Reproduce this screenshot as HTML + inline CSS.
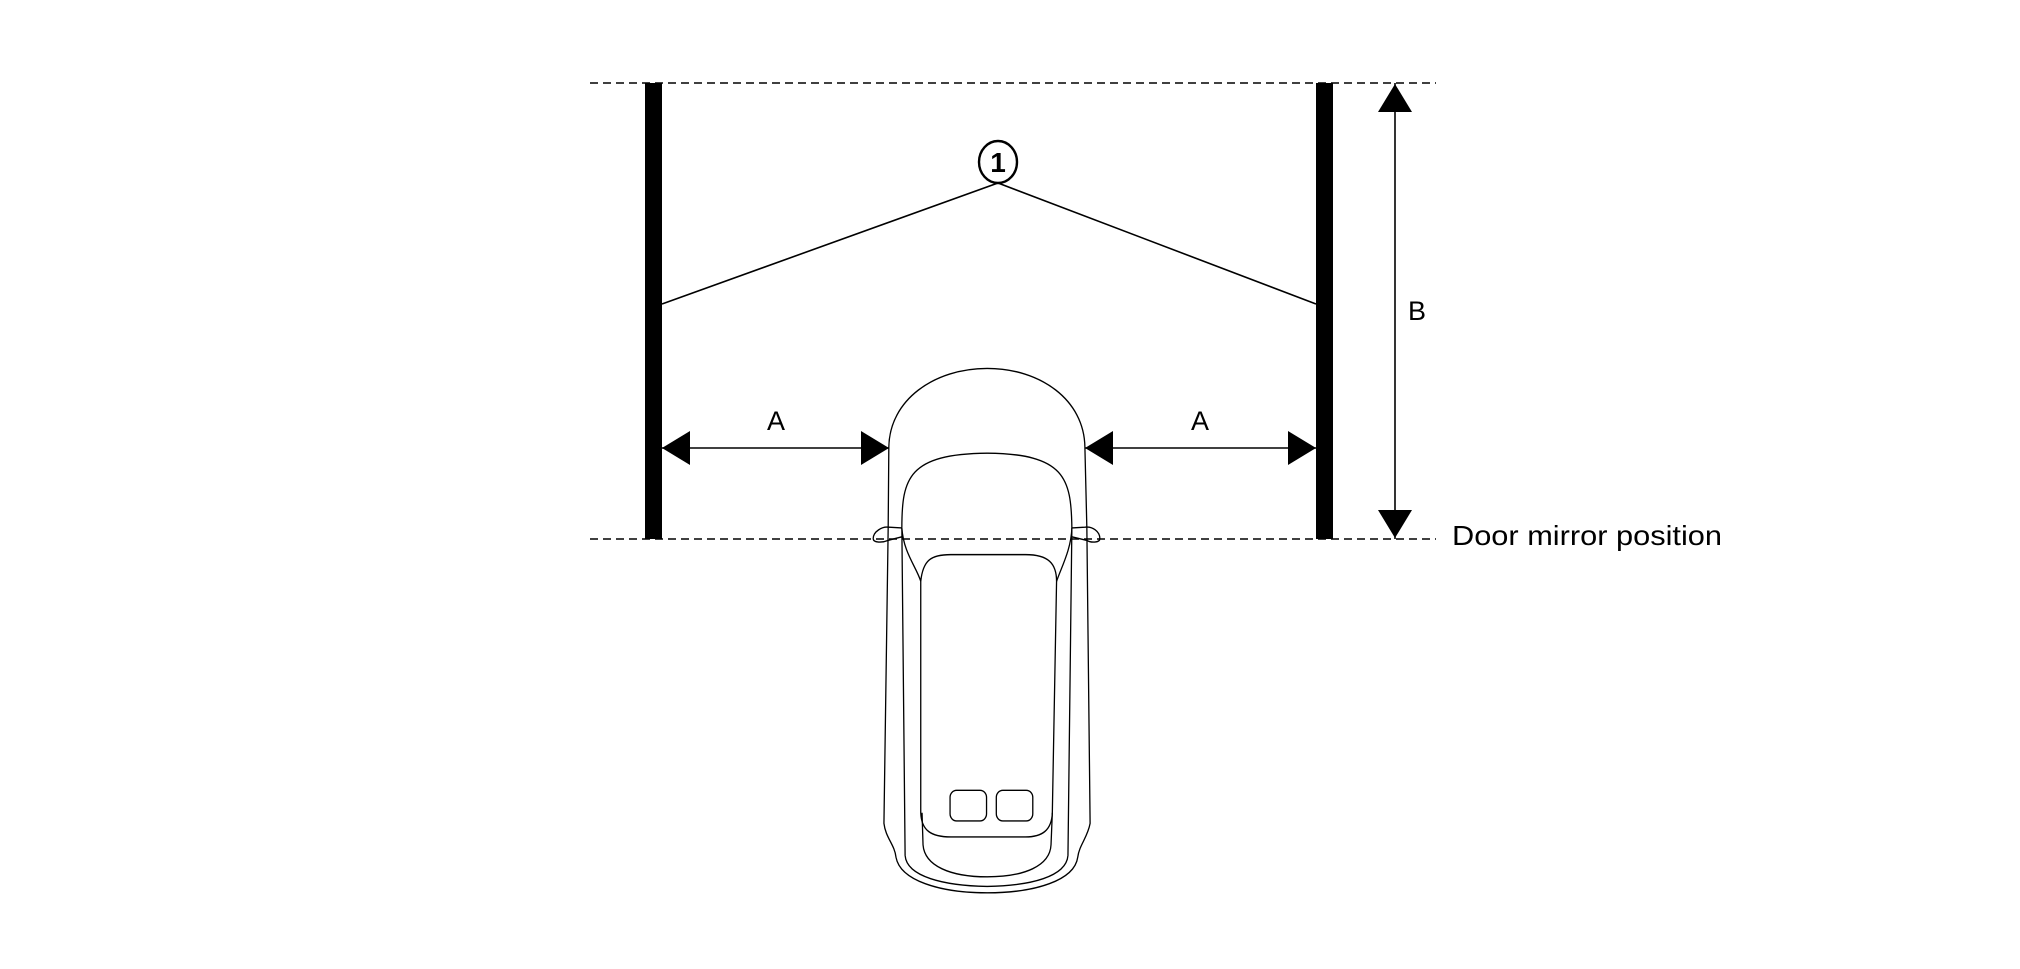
<!DOCTYPE html>
<html><head><meta charset="utf-8"><style>
html,body{margin:0;padding:0;background:#fff;}
svg{display:block;}
text{font-family:"Liberation Sans",sans-serif;fill:#000;}
</style></head><body>
<svg width="2020" height="969" viewBox="0 0 2020 969" xmlns="http://www.w3.org/2000/svg">
<g stroke="#000" stroke-width="1.5" stroke-dasharray="8,5" fill="none">
<line x1="590" y1="83" x2="1436" y2="83"/>
<line x1="590" y1="539" x2="1436" y2="539"/>
</g>
<rect x="645" y="83" width="17" height="456" fill="#000"/>
<rect x="1316" y="83" width="17" height="456" fill="#000"/>
<polyline points="662,304 998,183 1316,304" fill="none" stroke="#000" stroke-width="1.6"/>
<ellipse cx="998" cy="162" rx="19" ry="21" fill="#fff" stroke="#000" stroke-width="2.4"/>
<text x="998" y="172" font-size="28" font-weight="bold" text-anchor="middle">1</text>
<g stroke="#000" stroke-width="1.6">
<line x1="662" y1="448" x2="889" y2="448"/>
<line x1="1085" y1="448" x2="1316" y2="448"/>
<line x1="1395" y1="83" x2="1395" y2="539"/>
</g>
<g fill="#000">
<polygon points="662,448 690,431 690,465"/>
<polygon points="889,448 861,431 861,465"/>
<polygon points="1085,448 1113,431 1113,465"/>
<polygon points="1316,448 1288,431 1288,465"/>
<polygon points="1395,84 1378,112 1412,112"/>
<polygon points="1395,538 1378,510 1412,510"/>
</g>
<text x="776" y="430" font-size="27" text-anchor="middle">A</text>
<text x="1200" y="430" font-size="27" text-anchor="middle">A</text>
<text x="1417" y="320" font-size="27" text-anchor="middle">B</text>
<text x="1452" y="545" font-size="28" textLength="270" lengthAdjust="spacingAndGlyphs">Door mirror position</text>
<g transform="translate(853,360.6) scale(0.3257,0.356)" fill="none" stroke="#000" stroke-width="4">
<path d="M110,243 C112,110 250,22 412,22 C575,22 710,110 712,243 L718,470 L728,1300 C720,1340 695,1360 690,1395 C680,1460 560,1495 412,1495 C265,1495 145,1460 132,1395 C128,1360 100,1340 95,1300 L108,470 Z"/>
<path d="M150,470 L160,1390 C165,1450 280,1475 412,1477 C545,1475 655,1450 660,1390 L672,470"/>
<path d="M150,470 C150,330 170,262 412,260 C650,262 670,330 672,470 C670,530 640,580 625,620"/>
<path d="M150,470 C155,540 195,580 208,620"/>
<path d="M208,620 C215,560 240,545 300,545 L530,545 C600,545 625,570 625,620 L612,1270 C610,1320 580,1338 530,1338 L300,1338 C240,1338 210,1320 208,1270 Z"/>
<path d="M212,1270 L215,1360 C220,1420 300,1450 412,1450 C525,1450 605,1420 608,1360 L612,1270"/>
<rect x="298" y="1207" width="112" height="86" rx="20"/>
<rect x="440" y="1207" width="112" height="86" rx="20"/>
<path d="M150,470 L110,468 C90,465 62,480 62,500 C62,512 90,512 108,505 L150,495"/>
<path d="M672,470 L712,468 C735,465 758,480 758,500 C758,512 730,512 718,505 L672,495"/>
</g>
</svg>
</body></html>
